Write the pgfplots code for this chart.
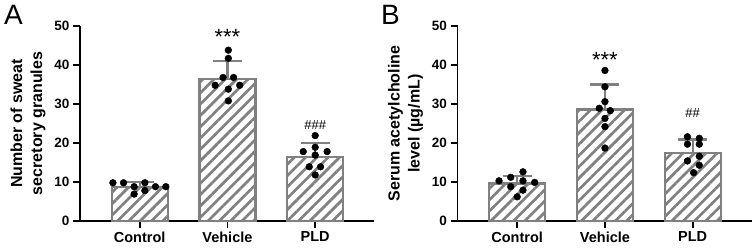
\documentclass[border=0pt]{standalone}
\usepackage{pgfplots}
\pgfplotsset{compat=1.18}
\usepackage{fontspec}
\setmainfont{Liberation Sans}
\usetikzlibrary{patterns.meta}
\definecolor{bargray}{RGB}{128,128,128}

\pgfplotsset{
  panel/.style={
    scale only axis, width=294pt, height=195pt,
    xmin=-0.68, xmax=2.67, ymin=0, ymax=50,
    axis x line*=bottom, axis y line*=left,
    axis line style={line width=1.8pt, black},
    xtick={0,1,2}, xticklabels={Control,Vehicle,PLD},
    ytick={0,10,20,30,40,50},
    tick style={line width=1.8pt, black},
    tick align=outside, major tick length=7pt,
    /pgf/number format/assume math mode=true,
    yticklabel style={font=\fontsize{13.5}{15}\selectfont\bfseries},
    xticklabel style={font=\fontsize{14.5}{16}\selectfont\bfseries},
    ylabel style={font=\fontsize{16}{20}\selectfont\bfseries, align=center,
      at={(axis description cs:-0.177,0.5)}, anchor=center},
    clip=false,
  },
  bars/.style={
    ybar, bar width=56pt, draw=bargray, line width=2.2pt,
    pattern={Lines[angle=45,distance=8pt,line width=2.7pt]}, pattern color=bargray,
    error bars/.cd, y dir=plus, y explicit,
    error bar style={line width=2.2pt, bargray},
    error mark options={line width=2.2pt, bargray, mark size=14.5pt, rotate=90},
  },
  dots/.style={only marks, mark=*, mark size=3.4pt, mark options={fill=black, draw=black}},
}

\pgfplotstableread{
x y
-0.305 9.8
-0.184 9.8
-0.063 8.8
-0.063 6.9
0.059 9.8
0.059 7.8
0.180 8.8
0.298 8.8
1.01 43.8
1.01 41.7
0.95 36.8
1.07 36.8
0.86 34.8
1.01 33.8
1.14 34.8
1.01 30.8
2.00 21.9
1.864 17.8
2.00 18.9
2.136 17.8
2.00 16.9
1.932 13.9
2.061 13.9
2.00 11.8
}\dotsA

\pgfplotstableread{
x y
-0.207 10.3
-0.074 11.2
0.066 12.6
0.199 9.9
-0.074 8.8
0.066 10.3
0.066 7.9
0.00 6.2
1.00 38.6
1.00 34.4
1.00 30.6
0.935 28.9
1.061 28.3
1.00 26.3
1.00 24.2
1.00 18.7
1.94 21.6
2.075 21.2
1.94 19.7
2.075 19.7
2.075 16.6
1.94 15.4
2.075 14.3
2.01 12.4
}\dotsB

\begin{document}
\begin{tikzpicture}
\path[use as bounding box] (0,0) rectangle (754pt,248pt);
\begin{axis}[panel, at={(80pt,27pt)}, anchor=south west,
  ylabel={Number of sweat\\secretory granules}]
  \addplot[bars] coordinates {(0,8.8) +- (0,1.3) (1,36.4) +- (0,4.6) (2,16.4) +- (0,3.5)};
  \addplot[dots] table[x=x,y=y] {\dotsA};
  \node[font=\fontsize{22}{22}\selectfont] at (axis cs:1,47.2) {***};
  \node[font=\fontsize{13}{13}\selectfont] at (axis cs:2,24.7) {\#\#\#};
\end{axis}
\begin{axis}[panel, at={(457.5pt,27pt)}, anchor=south west,
  ylabel={Serum acetylcholine\\level (µg/mL)}]
  \addplot[bars] coordinates {(0,9.6) +- (0,2.0) (1,28.6) +- (0,6.4) (2,17.4) +- (0,3.5)};
  \addplot[dots] table[x=x,y=y] {\dotsB};
  \node[font=\fontsize{22}{22}\selectfont] at (axis cs:1,41.3) {***};
  \node[font=\fontsize{13}{13}\selectfont] at (axis cs:2,27.7) {\#\#};
\end{axis}
\node[font=\fontsize{28}{28}\selectfont, anchor=base west, inner sep=0pt] at (4pt,223pt) {A};
\node[font=\fontsize{28}{28}\selectfont, anchor=base west, inner sep=0pt] at (381pt,223pt) {B};
\end{tikzpicture}
\end{document}
